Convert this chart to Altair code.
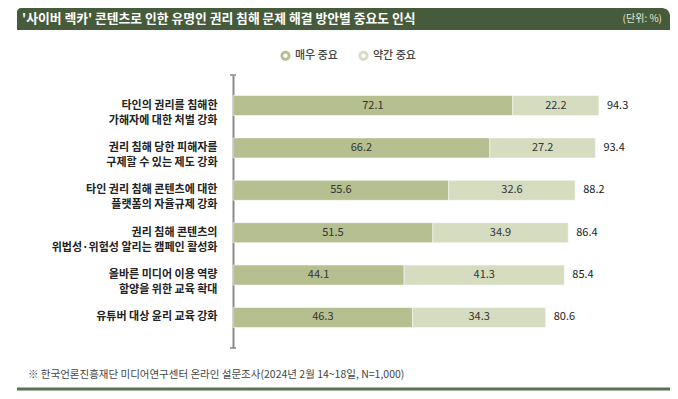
import altair as alt
import pandas as pd

categories = [
    "타인의 권리를 침해한\n가해자에 대한 처벌 강화",
    "권리 침해 당한 피해자를\n구제할 수 있는 제도 강화",
    "타인 권리 침해 콘텐츠에 대한\n플랫폼의 자율규제 강화",
    "권리 침해 콘텐츠의\n위법성·위험성 알리는 캠페인 활성화",
    "올바른 미디어 이용 역량\n함양을 위한 교육 확대",
    "유튜버 대상 윤리 교육 강화",
]
very_important = [72.1, 66.2, 55.6, 51.5, 44.1, 46.3]
somewhat_important = [22.2, 27.2, 32.6, 34.9, 41.3, 34.3]
totals = [94.3, 93.4, 88.2, 86.4, 85.4, 80.6]
series = ["매우 중요", "약간 중요"]
colors = ["#b5bf8f", "#d6dcc0"]

title_text = "'사이버 렉카' 콘텐츠로 인한 유명인 권리 침해 문제 해결 방안별 중요도 인식"
unit_text = "(단위: %)"
source_text = "※ 한국언론진흥재단 미디어연구센터 온라인 설문조사(2024년 2월 14~18일, N=1,000)"

FONT = "Noto Sans CJK KR"
RING = ("M -1 0 A 1 1 0 1 0 1 0 A 1 1 0 1 0 -1 0 Z "
        "M -0.45 0 A 0.45 0.45 0 1 1 0.45 0 A 0.45 0.45 0 1 1 -0.45 0 Z")

rows = []
for c, v1, v2 in zip(categories, very_important, somewhat_important):
    rows.append({"cat": c, "series": series[0], "start": 0.0, "end": v1, "mid": v1 / 2, "value": v1})
    rows.append({"cat": c, "series": series[1], "start": v1, "end": v1 + v2, "mid": v1 + v2 / 2, "value": v2})
seg = pd.DataFrame(rows)
tot = pd.DataFrame({"cat": categories, "total": totals})
one = pd.DataFrame({"a": [0]})

W, H = 388, 273

yenc = alt.Y(
    "cat:N",
    sort=categories,
    scale=alt.Scale(paddingInner=0.528, paddingOuter=0.484),
    axis=alt.Axis(
        title=None,
        labelExpr="split(datum.label, '\\n')",
        ticks=False,
        domainColor="#8a8a8a",
        domainWidth=2,
        labelPadding=16,
        labelFontSize=11,
        labelFont=FONT,
        labelFontWeight=600,
        labelColor="#222222",
        labelLineHeight=15,
        labelAlign="right",
        labelBaseline="middle",
    ),
)
xscale = alt.Scale(domain=[0, 100])
color_scale = alt.Scale(domain=series, range=colors)

bars = alt.Chart(seg).mark_bar(stroke="white", strokeWidth=0.5).encode(
    x=alt.X("start:Q", scale=xscale, axis=None),
    x2="end:Q",
    y=yenc,
    fill=alt.Fill(
        "series:N",
        scale=color_scale,
        legend=alt.Legend(
            title=None,
            orient="none",
            legendX=47,
            legendY=-25,
            direction="horizontal",
            symbolType=RING,
            symbolSize=100,
            symbolStrokeWidth=0,
            labelFont=FONT,
            labelFontSize=11,
            labelFontWeight=500,
            labelColor="#444444",
            labelOffset=4,
            columnPadding=20,
            padding=0,
        ),
    ),
)

seg_labels = alt.Chart(seg).mark_text(font=FONT, fontSize=11, color="#333333").encode(
    x=alt.X("mid:Q", scale=xscale), y=alt.Y("cat:N", sort=categories), text=alt.Text("value:Q", format=".1f")
)

tot_labels = alt.Chart(tot).mark_text(font=FONT, fontSize=11, color="#222222", align="left", dx=8).encode(
    x=alt.X("total:Q", scale=xscale), y=alt.Y("cat:N", sort=categories), text=alt.Text("total:Q", format=".1f")
)

cap_top = alt.Chart(one).mark_rule(color="#8a8a8a", strokeWidth=1.5).encode(
    x=alt.value(-3), x2=alt.value(3), y=alt.value(0)
)
cap_bot = alt.Chart(one).mark_rule(color="#8a8a8a", strokeWidth=1.5).encode(
    x=alt.value(-3), x2=alt.value(3), y=alt.value(H)
)

title_bar = alt.Chart(one).mark_rect(color="#465b3b", cornerRadiusTopLeft=4, cornerRadiusTopRight=8).encode(
    x=alt.value(-216), x2=alt.value(437), y=alt.value(-67), y2=alt.value(-45)
)
title_lbl = alt.Chart(one).mark_text(
    text=title_text, font=FONT, fontSize=12.8, fontWeight="bold", color="white", align="left", baseline="middle"
).encode(x=alt.value(-211), y=alt.value(-56))
unit_lbl = alt.Chart(one).mark_text(
    text=unit_text, font=FONT, fontSize=10, color="#e4e8dc", align="right", baseline="middle"
).encode(x=alt.value(429), y=alt.value(-56))
source_lbl = alt.Chart(one).mark_text(
    text=source_text, font=FONT, fontSize=10.5, color="#444444", align="left", baseline="middle"
).encode(x=alt.value(-205), y=alt.value(300))
bottom_line = alt.Chart(one).mark_rule(color="#5b7152", strokeWidth=3).encode(
    x=alt.value(-216), x2=alt.value(437), y=alt.value(314)
)

chart = (
    alt.layer(bars, seg_labels, tot_labels, cap_top, cap_bot, title_bar, title_lbl, unit_lbl, source_lbl, bottom_line)
    .properties(
        width=W,
        height=H,
        autosize=alt.AutoSizeParams(type="none"),
        padding={"left": 225, "top": 67, "right": 49, "bottom": 43},
        background="white",
    )
    .configure_view(stroke=None)
)

chart.save("out.html", embed_options={"renderer": "svg", "actions": False})
